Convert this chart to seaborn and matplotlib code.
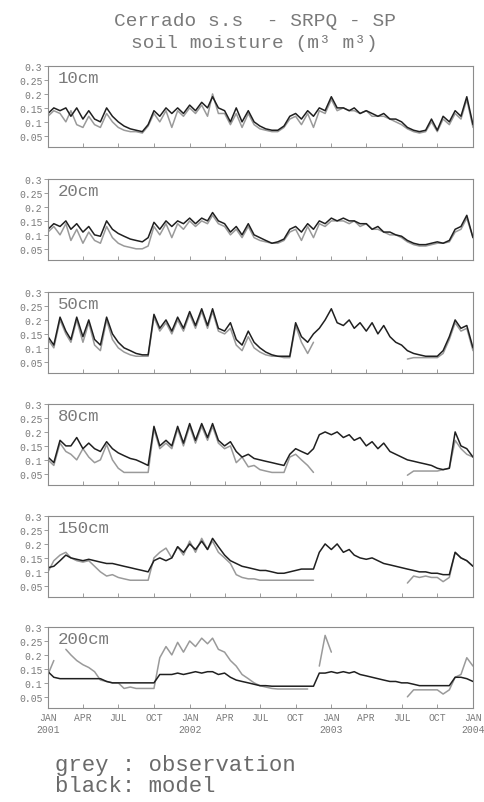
import numpy as np
import pandas as pd
import matplotlib
matplotlib.use("Agg")
import matplotlib.pyplot as plt
import seaborn as sns

nan = np.nan

# half-monthly samples (1st and 16th), Jan 2001 .. Jan 2004
dates = pd.to_datetime([f"{y}-{m:02d}-{d:02d}" for y in (2001, 2002, 2003)
                        for m in range(1, 13) for d in (1, 16)] + ["2004-01-01"])

# ---- 10 cm ----
mod_10 = [0.13, 0.15, 0.14, 0.15, 0.12, 0.15, 0.11, 0.14, 0.11, 0.10, 0.15, 0.12, 0.10, 0.085, 0.075, 0.07, 0.065, 0.09, 0.14, 0.12, 0.15, 0.13, 0.15, 0.13,
          0.16, 0.14, 0.17, 0.15, 0.19, 0.15, 0.14, 0.10, 0.15, 0.10, 0.14, 0.10, 0.085, 0.075, 0.07, 0.07, 0.085, 0.12, 0.13, 0.11, 0.14, 0.12, 0.15, 0.14,
          0.19, 0.15, 0.15, 0.14, 0.15, 0.13, 0.14, 0.13, 0.12, 0.13, 0.11, 0.11, 0.10, 0.08, 0.07, 0.065, 0.07, 0.11, 0.07, 0.12, 0.10, 0.14, 0.12, 0.19,
          0.09]
obs_10 = [0.12, 0.14, 0.13, 0.10, 0.14, 0.09, 0.08, 0.12, 0.09, 0.08, 0.13, 0.10, 0.08, 0.07, 0.065, 0.065, 0.06, 0.085, 0.13, 0.10, 0.14, 0.08, 0.14, 0.12,
          0.15, 0.13, 0.16, 0.12, 0.20, 0.13, 0.13, 0.09, 0.13, 0.08, 0.13, 0.09, 0.075, 0.07, 0.065, 0.065, 0.08, 0.11, 0.12, 0.09, 0.13, 0.08, 0.14, 0.13,
          0.18, 0.14, 0.15, 0.14, 0.14, 0.13, 0.14, 0.12, 0.12, 0.12, 0.11, 0.10, 0.09, 0.075, 0.065, 0.06, 0.065, 0.10, 0.065, 0.11, 0.09, 0.13, 0.11, 0.18,
          0.08]

# ---- 20 cm ----
mod_20 = [0.12, 0.14, 0.13, 0.15, 0.12, 0.14, 0.11, 0.13, 0.10, 0.095, 0.15, 0.12, 0.105, 0.095, 0.085, 0.08, 0.075, 0.09, 0.145, 0.12, 0.15, 0.13, 0.15, 0.14,
          0.16, 0.14, 0.16, 0.15, 0.18, 0.15, 0.14, 0.11, 0.13, 0.10, 0.14, 0.10, 0.09, 0.08, 0.07, 0.075, 0.085, 0.12, 0.13, 0.11, 0.14, 0.12, 0.15, 0.14,
          0.16, 0.15, 0.16, 0.15, 0.15, 0.14, 0.14, 0.12, 0.13, 0.11, 0.11, 0.10, 0.095, 0.08, 0.07, 0.065, 0.065, 0.07, 0.075, 0.07, 0.08, 0.12, 0.13, 0.17,
          0.09]
obs_20 = [0.11, 0.13, 0.10, 0.14, 0.08, 0.12, 0.07, 0.11, 0.08, 0.07, 0.13, 0.09, 0.07, 0.06, 0.055, 0.05, 0.05, 0.06, 0.13, 0.10, 0.14, 0.09, 0.14, 0.12,
          0.15, 0.13, 0.15, 0.14, 0.17, 0.14, 0.13, 0.10, 0.12, 0.09, 0.13, 0.09, 0.08, 0.075, 0.07, 0.07, 0.08, 0.11, 0.12, 0.08, 0.13, 0.09, 0.14, 0.13,
          0.15, 0.15, 0.15, 0.14, 0.15, 0.13, 0.14, 0.12, 0.12, 0.11, 0.10, 0.10, 0.09, 0.075, 0.065, 0.06, 0.06, 0.065, 0.07, 0.07, 0.075, 0.11, 0.12, 0.16,
          0.09]

# ---- 50 cm ----
mod_50 = [0.14, 0.11, 0.21, 0.16, 0.13, 0.21, 0.14, 0.20, 0.13, 0.11, 0.21, 0.15, 0.12, 0.10, 0.09, 0.08, 0.075, 0.075, 0.22, 0.17, 0.20, 0.16, 0.21, 0.17,
          0.23, 0.18, 0.24, 0.18, 0.24, 0.17, 0.16, 0.19, 0.13, 0.11, 0.16, 0.12, 0.10, 0.085, 0.075, 0.07, 0.07, 0.07, 0.19, 0.14, 0.12, 0.15, 0.17, 0.20,
          0.24, 0.19, 0.18, 0.20, 0.17, 0.19, 0.16, 0.19, 0.15, 0.18, 0.14, 0.12, 0.11, 0.09, 0.08, 0.075, 0.07, 0.07, 0.07, 0.09, 0.14, 0.20, 0.17, 0.18,
          0.10]
obs_50 = [0.13, 0.10, 0.20, 0.15, 0.12, 0.20, 0.12, 0.19, 0.11, 0.09, 0.20, 0.13, 0.10, 0.085, 0.075, 0.07, 0.07, 0.07, 0.21, 0.16, 0.19, 0.15, 0.20, 0.16,
          0.22, 0.17, 0.23, 0.17, 0.23, 0.16, 0.15, 0.17, 0.11, 0.09, 0.14, 0.10, 0.085, 0.075, 0.07, 0.07, 0.065, 0.065, 0.18, 0.12, 0.08, 0.12, nan, nan,
          nan, nan, nan, nan, nan, nan, nan, nan, nan, nan, nan, nan, nan, 0.06, 0.065, 0.065, 0.065, 0.065, 0.065, 0.08, 0.13, 0.19, 0.16, 0.17,
          0.09]

# ---- 80 cm ----
mod_80 = [0.11, 0.09, 0.17, 0.15, 0.15, 0.18, 0.14, 0.16, 0.14, 0.13, 0.165, 0.14, 0.125, 0.115, 0.105, 0.10, 0.09, 0.08, 0.22, 0.15, 0.17, 0.15, 0.22, 0.16,
          0.23, 0.17, 0.23, 0.18, 0.23, 0.17, 0.15, 0.165, 0.13, 0.11, 0.12, 0.105, 0.10, 0.095, 0.09, 0.085, 0.08, 0.12, 0.14, 0.13, 0.12, 0.14, 0.19, 0.20,
          0.19, 0.20, 0.18, 0.19, 0.17, 0.18, 0.15, 0.165, 0.14, 0.16, 0.13, 0.12, 0.11, 0.10, 0.095, 0.09, 0.085, 0.08, 0.07, 0.065, 0.07, 0.20, 0.15, 0.14,
          0.11]
obs_80 = [0.10, 0.08, 0.16, 0.13, 0.12, 0.10, 0.14, 0.11, 0.09, 0.10, 0.155, 0.10, 0.07, 0.055, 0.055, 0.055, 0.055, 0.055, 0.21, 0.14, 0.16, 0.14, 0.21, 0.15,
          0.22, 0.16, 0.22, 0.17, 0.22, 0.16, 0.14, 0.15, 0.09, 0.11, 0.075, 0.08, 0.065, 0.06, 0.055, 0.055, 0.055, 0.11, 0.12, 0.10, 0.08, 0.055, nan, nan,
          nan, nan, nan, nan, nan, nan, nan, nan, nan, nan, nan, nan, nan, 0.045, 0.06, 0.06, 0.06, 0.06, 0.06, 0.065, 0.07, 0.17, 0.14, 0.12,
          0.11]

# ---- 150 cm ----
mod_150 = [0.115, 0.12, 0.14, 0.16, 0.15, 0.145, 0.14, 0.145, 0.14, 0.135, 0.13, 0.13, 0.125, 0.12, 0.115, 0.11, 0.105, 0.10, 0.14, 0.15, 0.14, 0.15, 0.19, 0.17,
           0.20, 0.18, 0.21, 0.18, 0.22, 0.19, 0.16, 0.14, 0.13, 0.12, 0.115, 0.11, 0.105, 0.105, 0.10, 0.095, 0.095, 0.10, 0.105, 0.11, 0.11, 0.11, 0.17, 0.20,
           0.18, 0.20, 0.17, 0.18, 0.16, 0.15, 0.145, 0.15, 0.14, 0.13, 0.125, 0.12, 0.115, 0.11, 0.105, 0.10, 0.10, 0.095, 0.095, 0.09, 0.09, 0.17, 0.15, 0.14,
           0.12]
obs_150 = [0.10, 0.14, 0.16, 0.17, 0.15, 0.14, 0.135, 0.14, 0.12, 0.10, 0.085, 0.09, 0.08, 0.075, 0.07, 0.07, 0.07, 0.07, 0.15, 0.17, 0.185, 0.15, 0.19, 0.16,
           0.21, 0.17, 0.22, 0.18, 0.21, 0.17, 0.15, 0.13, 0.09, 0.08, 0.075, 0.075, 0.07, 0.07, 0.07, 0.07, 0.07, 0.07, 0.07, 0.07, 0.07, 0.07, nan, nan,
           nan, nan, nan, nan, nan, nan, nan, nan, nan, nan, nan, nan, nan, 0.06, 0.085, 0.08, 0.085, 0.08, 0.08, 0.065, 0.08, 0.17, 0.15, 0.14,
           0.12]

# ---- 200 cm ----
mod_200 = [0.14, 0.12, 0.115, 0.115, 0.115, 0.115, 0.115, 0.115, 0.115, 0.115, 0.105, 0.10, 0.10, 0.10, 0.10, 0.10, 0.10, 0.10, 0.10, 0.13, 0.13, 0.13, 0.135, 0.13,
           0.135, 0.14, 0.135, 0.14, 0.14, 0.13, 0.135, 0.12, 0.11, 0.105, 0.10, 0.095, 0.09, 0.09, 0.088, 0.088, 0.088, 0.088, 0.088, 0.088, 0.088, 0.088, 0.135, 0.135,
           0.14, 0.135, 0.14, 0.135, 0.14, 0.13, 0.125, 0.12, 0.115, 0.11, 0.105, 0.105, 0.10, 0.10, 0.095, 0.09, 0.09, 0.09, 0.09, 0.09, 0.09, 0.12, 0.12, 0.115,
           0.105]
obs_200 = [0.13, 0.18, nan, 0.22, 0.20, 0.18, 0.165, 0.155, 0.14, 0.11, 0.105, 0.10, 0.10, 0.08, 0.085, 0.08, 0.08, 0.08, 0.08, 0.19, 0.23, 0.20, 0.245, 0.21,
           0.25, 0.23, 0.26, 0.24, 0.26, 0.22, 0.21, 0.18, 0.16, 0.13, 0.115, 0.10, 0.09, 0.085, 0.08, 0.078, 0.078, 0.078, 0.078, 0.078, 0.078, nan, 0.16, 0.27,
           0.21, nan, nan, nan, nan, nan, nan, nan, nan, nan, nan, nan, nan, 0.05, 0.075, 0.075, 0.075, 0.075, 0.075, 0.06, 0.075, 0.12, 0.13, 0.19,
           0.16]

depths = ["10cm", "20cm", "50cm", "80cm", "150cm", "200cm"]
obs_series = [obs_10, obs_20, obs_50, obs_80, obs_150, obs_200]
mod_series = [mod_10, mod_20, mod_50, mod_80, mod_150, mod_200]

x_ticks = pd.date_range("2001-01-01", "2004-01-01", freq="3MS")
x_labels = ["JAN\n2001", "APR", "JUL", "OCT", "JAN\n2002", "APR", "JUL", "OCT",
            "JAN\n2003", "APR", "JUL", "OCT", "JAN\n2004"]
y_ticks = [0.05, 0.1, 0.15, 0.2, 0.25, 0.3]
y_labels = ["0.05", "0.1", "0.15", "0.2", "0.25", "0.3"]

sns.set_style("white")
plt.rcParams["font.family"] = ["Liberation Mono", "DejaVu Sans Mono"]

OBS_C = "#9a9a9a"
MOD_C = "#202020"
TXT_C = "#7a7a7a"
FRAME_C = "#8c8c8c"

W, H = 485, 803
fig = plt.figure(figsize=(W / 100, H / 100), dpi=100)

tops = [67, 180, 293, 405, 517, 628]
panel_h = 81
left, right = 48, 473

for k, (depth, obs, mod) in enumerate(zip(depths, obs_series, mod_series)):
    ax = fig.add_axes([left / W, 1 - (tops[k] + panel_h) / H, (right - left) / W, panel_h / H])
    df = pd.DataFrame({"date": dates, "obs": obs, "mod": mod})
    # split observation at missing values so gaps stay open
    df["seg"] = df["obs"].isna().cumsum()
    od = df.dropna(subset=["obs"])
    sns.lineplot(data=od, x="date", y="obs", units="seg", estimator=None,
                 color=OBS_C, lw=1.1, ax=ax)
    sns.lineplot(data=df, x="date", y="mod", color=MOD_C, lw=1.1, ax=ax)

    ax.set_xlim(pd.Timestamp("2001-01-01"), pd.Timestamp("2004-01-01"))
    ax.set_ylim(0.01, 0.3)
    ax.set_xlabel("")
    ax.set_ylabel("")
    ax.set_yticks(y_ticks)
    ax.set_yticklabels(y_labels)
    ax.set_xticks(x_ticks)
    if k == len(depths) - 1:
        ax.set_xticklabels(x_labels)
    else:
        ax.set_xticklabels([])
    ax.tick_params(axis="y", direction="out", length=3, width=0.6, color=FRAME_C,
                   labelsize=7, labelcolor=TXT_C, pad=1, left=True)
    ax.tick_params(axis="x", direction="in", length=3, width=0.6, color=FRAME_C,
                   labelsize=7, labelcolor=TXT_C, pad=3, bottom=True)
    for s in ax.spines.values():
        s.set_color(FRAME_C)
        s.set_linewidth(0.8)
    ax.text(0.024, 0.86, depth, transform=ax.transAxes, ha="left", va="center",
            fontsize=12.5, color=TXT_C)

fig.text(0.525, 1 - 22 / H, "Cerrado s.s  - SRPQ - SP", ha="center", va="center",
         fontsize=14, color=TXT_C)
fig.text(0.525, 1 - 44 / H, "soil moisture (m³ m³)", ha="center", va="center",
         fontsize=14, color=TXT_C)

fig.text(55 / W, 1 - 766 / H, "grey : observation", ha="left", va="center",
         fontsize=16, color="#6a6a6a")
fig.text(55 / W, 1 - 787 / H, "black: model", ha="left", va="center",
         fontsize=16, color="#6a6a6a")

fig.savefig("out.png", dpi=100, facecolor="white")
